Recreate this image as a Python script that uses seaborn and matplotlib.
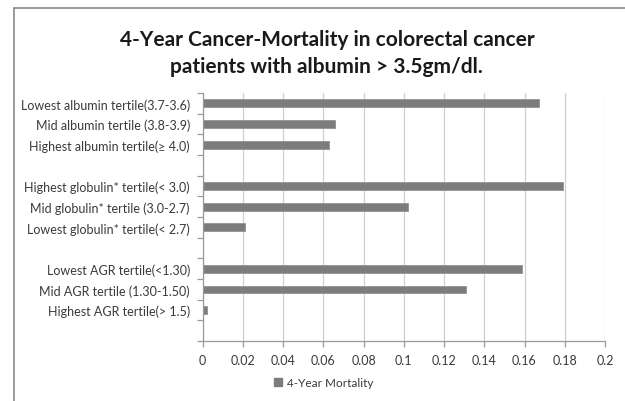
import numpy as np
import pandas as pd
import matplotlib.pyplot as plt
import seaborn as sns
from matplotlib.lines import Line2D
from matplotlib.patches import Patch

# Categories top to bottom (blank rows separate the groups)
categories = [
    'Lowest albumin tertile(3.7-3.6)',
    'Mid albumin tertile (3.8-3.9)',
    'Highest albumin tertile(\u2265 4.0)',
    ' ',
    'Highest globulin* tertile(< 3.0)',
    'Mid globulin* tertile (3.0-2.7)',
    'Lowest globulin* tertile(< 2.7)',
    '  ',
    'Lowest AGR tertile(<1.30)',
    'Mid AGR tertile (1.30-1.50)',
    'Highest AGR tertile(> 1.5)',
    '   ',
]
mortality = [0.167, 0.066, 0.063, np.nan,
             0.179, 0.102, 0.021, np.nan,
             0.159, 0.131, 0.002, np.nan]
x_ticks = [0, 0.02, 0.04, 0.06, 0.08, 0.1, 0.12, 0.14, 0.16, 0.18, 0.2]
x_tick_labels = ['0', '0.02', '0.04', '0.06', '0.08', '0.1', '0.12', '0.14', '0.16', '0.18', '0.2']

df = pd.DataFrame({'group': categories, 'value': mortality})

sns.set_style('white')
plt.rcParams['font.family'] = ['Lato', 'DejaVu Sans']

fig = plt.figure(figsize=(6.25, 4.02), dpi=100)
ax = fig.add_axes([0.324, 0.149, 0.644, 0.617])

sns.barplot(data=df.dropna(), x='value', y='group', order=categories,
            color='#7c7c7c', width=0.38, edgecolor='#929292', linewidth=0.6,
            saturation=1, ax=ax)

ax.set_xlim(0, 0.2)
ax.set_xticks(x_ticks)
ax.set_xticklabels(x_tick_labels)
ax.set_ylim(len(categories) - 0.5, -0.5)
ax.set_xlabel('')
ax.set_ylabel('')

ax.grid(axis='x', color='#cfcfcf', linewidth=0.9)
ax.set_axisbelow(True)
for side in ['top', 'right']:
    ax.spines[side].set_visible(False)
for side in ['left', 'bottom']:
    ax.spines[side].set_color('#9a9a9a')
    ax.spines[side].set_linewidth(0.9)

# slot-boundary ticks on the category axis, labels centered on slots
ax.set_yticks(np.arange(len(categories)))
ax.set_yticks(np.arange(len(categories) + 1) - 0.5, minor=True)
ax.tick_params(axis='y', which='major', left=True, length=0, labelsize=9,
               labelcolor='#3a3a3a', pad=9)
ax.tick_params(axis='y', which='minor', left=True, length=4, color='#9a9a9a', width=0.9)
ax.tick_params(axis='x', which='major', bottom=True, length=4, color='#9a9a9a', width=0.9,
               labelsize=9, labelcolor='#3a3a3a', pad=5, direction='out')

fig.suptitle('4-Year Cancer-Mortality in colorectal cancer\npatients with albumin > 3.5gm/dl.',
             x=0.523, y=0.925, fontsize=15, fontweight='bold', color='#1a1a1a',
             linespacing=1.4)

handle = Patch(facecolor='#7c7c7c', edgecolor='#7c7c7c')
fig.legend([handle], ['4-Year Mortality'], loc='center', bbox_to_anchor=(0.518, 0.045),
           frameon=False, fontsize=8.5, labelcolor='#3a3a3a', handlelength=0.7,
           handleheight=0.7, handletextpad=0.4)

# chart frame (left and top edges)
fig.add_artist(Line2D([0.022, 0.022], [0.0, 0.977], transform=fig.transFigure,
                      color='#8a8a8a', linewidth=1.2))
fig.add_artist(Line2D([0.022, 1.0], [0.977, 0.977], transform=fig.transFigure,
                      color='#8a8a8a', linewidth=1.2))

fig.savefig('out.png', dpi=100)
